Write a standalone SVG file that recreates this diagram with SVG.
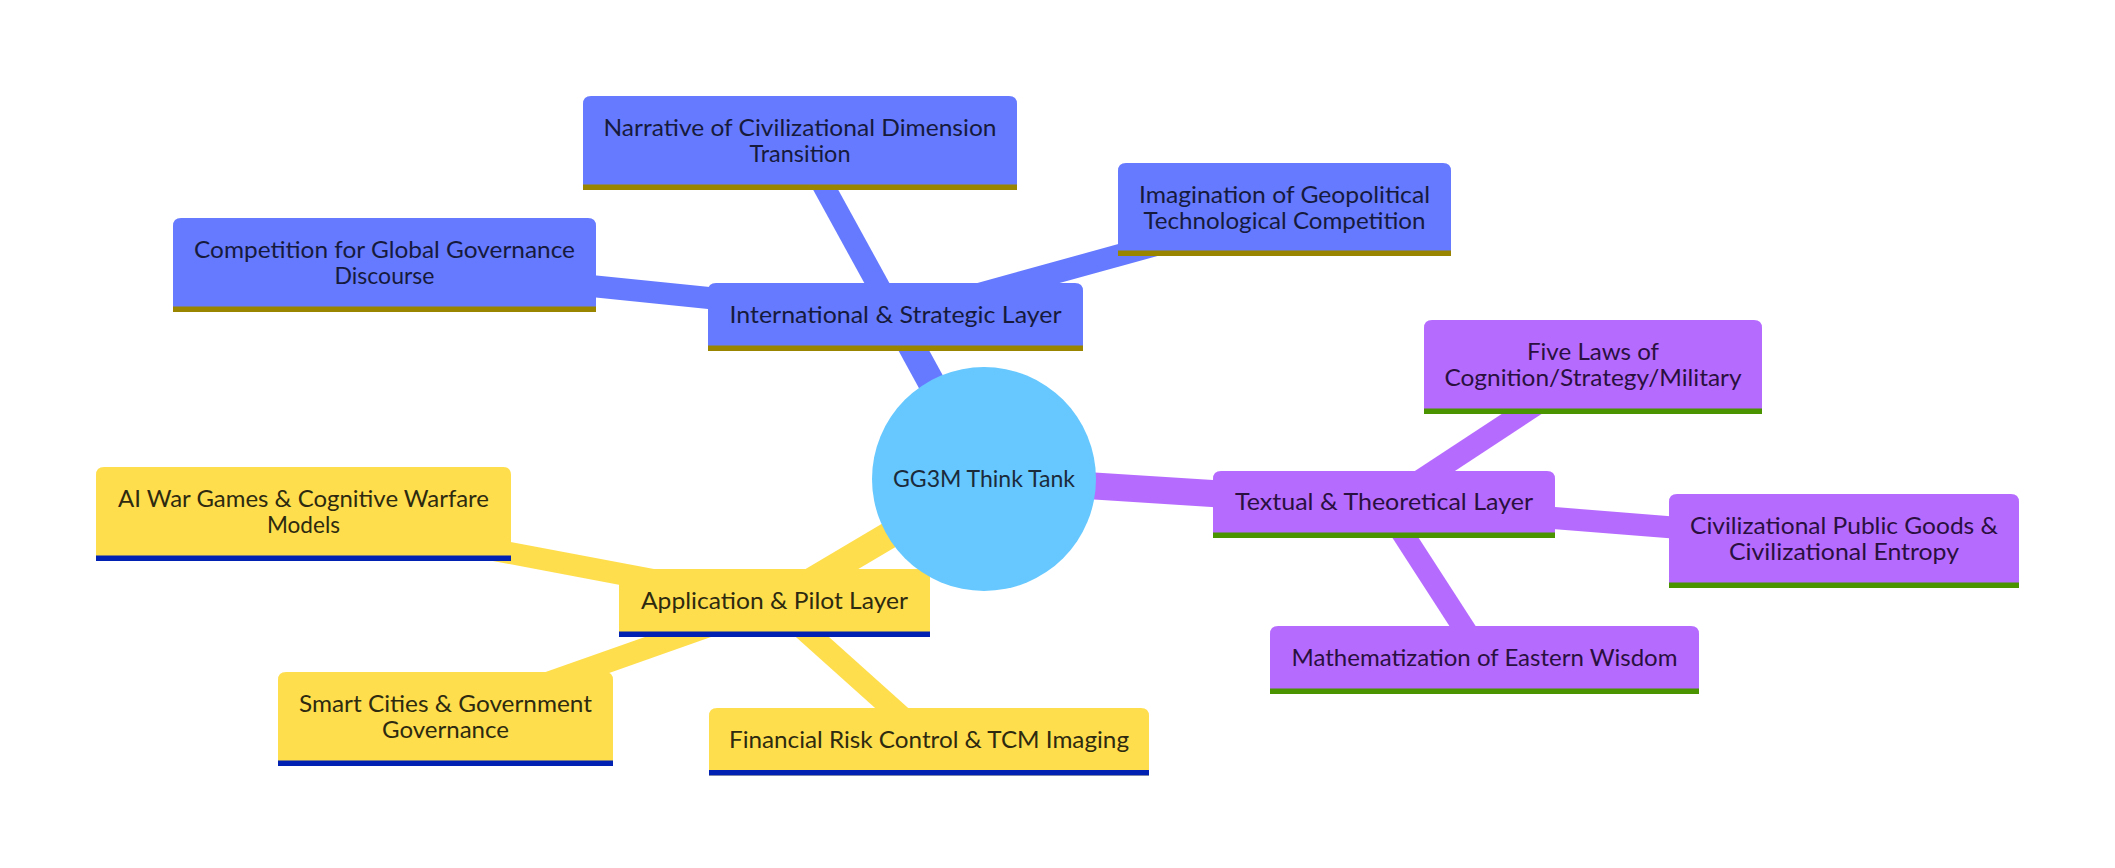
<svg xmlns="http://www.w3.org/2000/svg" width="2115" height="868" viewBox="0 0 2115 868">
<style>
  .bg { fill: #ffffff; }
  .lbl { font-family: Lato, "Liberation Sans", sans-serif; font-size: 22.4px; text-anchor: middle; }
  .blue .box { fill: #667aff; }
  .blue .ul { fill: #998500; }
  .blue .lbl { fill: #161a3d; }
  .purple .box { fill: #b66bff; }
  .purple .ul { fill: #4a9400; }
  .purple .lbl { fill: #2a1040; }
  .yellow .box { fill: #ffde4d; }
  .yellow .ul { fill: #0021b2; }
  .yellow .lbl { fill: #2d2a10; }
  .root .circ { fill: #66c8ff; }
  .root .lbl { fill: #1b2b3b; }
  .e { fill: none; stroke-linecap: butt; }
  .e0 { stroke-width: 27; }
  .e1 { stroke-width: 22; }
  .eb { stroke: #667aff; }
  .ep { stroke: #b66bff; }
  .ey { stroke: #ffde4d; }
</style>
<rect class="bg" x="0" y="0" width="2115" height="868"/>

<g id="connectors">
  <line class="e e0 eb" x1="984" y1="479" x2="895.5" y2="317"/>
  <line class="e e1 eb" x1="895.5" y1="317" x2="800" y2="143"/>
  <line class="e e1 eb" x1="895.5" y1="317" x2="384.5" y2="265"/>
  <line class="e e1 eb" x1="895.5" y1="317" x2="1284.5" y2="209.5"/>
  <line class="e e0 ep" x1="984" y1="479" x2="1384" y2="504.5"/>
  <line class="e e1 ep" x1="1384" y1="504.5" x2="1593" y2="367"/>
  <line class="e e1 ep" x1="1384" y1="504.5" x2="1844" y2="541"/>
  <line class="e e1 ep" x1="1384" y1="504.5" x2="1484.5" y2="660"/>
  <line class="e e0 ey" x1="984" y1="479" x2="774.5" y2="603"/>
  <line class="e e1 ey" x1="774.5" y1="603" x2="303.5" y2="514"/>
  <line class="e e1 ey" x1="774.5" y1="603" x2="445.5" y2="719"/>
  <line class="e e1 ey" x1="774.5" y1="603" x2="929" y2="741.5"/>
</g>

<g id="node-international" class="blue">
  <path class="box" d="M708,351 V291 Q708,283 716,283 H1075 Q1083,283 1083,291 V351 Z"/>
  <rect class="ul" x="708" y="345.5" width="375" height="5.5"/>
  <text class="lbl" x="895.5" y="322.5" textLength="332" lengthAdjust="spacingAndGlyphs">International &amp; Strategic Layer</text>
</g>
<g id="node-narrative" class="blue">
  <path class="box" d="M583,190 V104 Q583,96 591,96 H1009 Q1017,96 1017,104 V190 Z"/>
  <rect class="ul" x="583" y="184.5" width="434" height="5.5"/>
  <text class="lbl" x="800" y="136" textLength="393" lengthAdjust="spacingAndGlyphs">Narrative of Civilizational Dimension</text>
  <text class="lbl" x="800" y="162" textLength="101" lengthAdjust="spacingAndGlyphs">Transition</text>
</g>
<g id="node-competition" class="blue">
  <path class="box" d="M173,312 V226 Q173,218 181,218 H588 Q596,218 596,226 V312 Z"/>
  <rect class="ul" x="173" y="306.5" width="423" height="5.5"/>
  <text class="lbl" x="384.5" y="258" textLength="381" lengthAdjust="spacingAndGlyphs">Competition for Global Governance</text>
  <text class="lbl" x="384.5" y="284" textLength="100" lengthAdjust="spacingAndGlyphs">Discourse</text>
</g>
<g id="node-imagination" class="blue">
  <path class="box" d="M1118,256 V171 Q1118,163 1126,163 H1443 Q1451,163 1451,171 V256 Z"/>
  <rect class="ul" x="1118" y="250.5" width="333" height="5.5"/>
  <text class="lbl" x="1284.5" y="202.5" textLength="291" lengthAdjust="spacingAndGlyphs">Imagination of Geopolitical</text>
  <text class="lbl" x="1284.5" y="228.5" textLength="282" lengthAdjust="spacingAndGlyphs">Technological Competition</text>
</g>

<g id="node-textual" class="purple">
  <path class="box" d="M1213,538 V479 Q1213,471 1221,471 H1547 Q1555,471 1555,479 V538 Z"/>
  <rect class="ul" x="1213" y="532.5" width="342" height="5.5"/>
  <text class="lbl" x="1384" y="509.5" textLength="298" lengthAdjust="spacingAndGlyphs">Textual &amp; Theoretical Layer</text>
</g>
<g id="node-fivelaws" class="purple">
  <path class="box" d="M1424,414 V328 Q1424,320 1432,320 H1754 Q1762,320 1762,328 V414 Z"/>
  <rect class="ul" x="1424" y="408.5" width="338" height="5.5"/>
  <text class="lbl" x="1593" y="360" textLength="132" lengthAdjust="spacingAndGlyphs">Five Laws of</text>
  <text class="lbl" x="1593" y="386" textLength="297" lengthAdjust="spacingAndGlyphs">Cognition/Strategy/Military</text>
</g>
<g id="node-civilizational" class="purple">
  <path class="box" d="M1669,588 V502 Q1669,494 1677,494 H2011 Q2019,494 2019,502 V588 Z"/>
  <rect class="ul" x="1669" y="582.5" width="350" height="5.5"/>
  <text class="lbl" x="1844" y="533.5" textLength="308" lengthAdjust="spacingAndGlyphs">Civilizational Public Goods &amp;</text>
  <text class="lbl" x="1844" y="559.5" textLength="230" lengthAdjust="spacingAndGlyphs">Civilizational Entropy</text>
</g>
<g id="node-mathematization" class="purple">
  <path class="box" d="M1270,694 V634 Q1270,626 1278,626 H1691 Q1699,626 1699,634 V694 Z"/>
  <rect class="ul" x="1270" y="688.5" width="429" height="5.5"/>
  <text class="lbl" x="1484.5" y="665.5" textLength="386" lengthAdjust="spacingAndGlyphs">Mathematization of Eastern Wisdom</text>
</g>

<g id="node-application" class="yellow">
  <path class="box" d="M619,637 V577 Q619,569 627,569 H922 Q930,569 930,577 V637 Z"/>
  <rect class="ul" x="619" y="631.5" width="311" height="5.5"/>
  <text class="lbl" x="774.5" y="608.5" textLength="267" lengthAdjust="spacingAndGlyphs">Application &amp; Pilot Layer</text>
</g>
<g id="node-aiwargames" class="yellow">
  <path class="box" d="M96,561 V475 Q96,467 104,467 H503 Q511,467 511,475 V561 Z"/>
  <rect class="ul" x="96" y="555.5" width="415" height="5.5"/>
  <text class="lbl" x="303.5" y="507" textLength="371" lengthAdjust="spacingAndGlyphs">AI War Games &amp; Cognitive Warfare</text>
  <text class="lbl" x="303.5" y="533" textLength="73" lengthAdjust="spacingAndGlyphs">Models</text>
</g>
<g id="node-smartcities" class="yellow">
  <path class="box" d="M278,766 V680 Q278,672 286,672 H605 Q613,672 613,680 V766 Z"/>
  <rect class="ul" x="278" y="760.5" width="335" height="5.5"/>
  <text class="lbl" x="445.5" y="712" textLength="293" lengthAdjust="spacingAndGlyphs">Smart Cities &amp; Government</text>
  <text class="lbl" x="445.5" y="738" textLength="127" lengthAdjust="spacingAndGlyphs">Governance</text>
</g>
<g id="node-financial" class="yellow">
  <path class="box" d="M709,775.5 V716 Q709,708 717,708 H1141 Q1149,708 1149,716 V775.5 Z"/>
  <rect class="ul" x="709" y="770" width="440" height="5.5"/>
  <text class="lbl" x="929" y="747.5" textLength="400" lengthAdjust="spacingAndGlyphs">Financial Risk Control &amp; TCM Imaging</text>
</g>

<g id="node-root" class="root">
  <circle class="circ" cx="984" cy="479" r="112"/>
  <text class="lbl" x="984" y="486.5" textLength="182" lengthAdjust="spacingAndGlyphs">GG3M Think Tank</text>
</g>
</svg>
